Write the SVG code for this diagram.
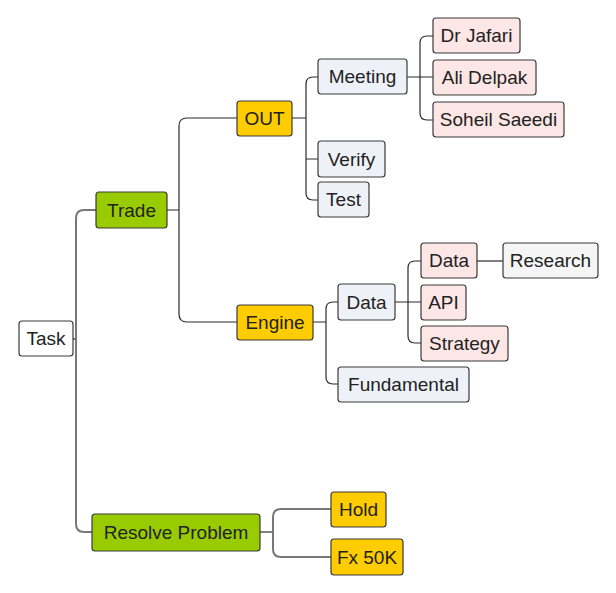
<svg xmlns="http://www.w3.org/2000/svg" width="616" height="593" viewBox="0 0 616 593">
<style>
.n rect{stroke:#3a3a3a;stroke-width:1.2}
.n text{font-family:"Liberation Sans",Arial,sans-serif;font-size:19px;fill:#222;text-anchor:middle}
.root rect{fill:#ffffff}
.g rect{fill:#99cc00}
.y rect{fill:#ffcc00}
.b rect{fill:#eef2f8}
.p rect{fill:#fde6e6}
.w rect{fill:#f5f5f5}
.c1{fill:none;stroke:#777;stroke-width:2}
.c2{fill:none;stroke:#2a2a2a;stroke-width:1.2}
</style>
<rect width="616" height="593" fill="#fff"/>
<g id="connectors">
<path class="c1" d="M73,339 H76 M96,210 H84 Q76,210 76,218 V524 Q76,532 84,532 H92"/>
<path class="c2" d="M167,210 H179 M237,118 H187 Q179,118 179,126 V314 Q179,322 187,322 H237"/>
<path class="c2" d="M292,118 H306 M318,77 H313 Q306,77 306,84 V193 Q306,200 313,200 H318 M306,159 H318"/>
<path class="c2" d="M407,77 H433 M433,36 H427 Q420,36 420,43 V113 Q420,120 427,120 H433"/>
<path class="c2" d="M313,322 H326 M338,302 H333 Q326,302 326,309 V377 Q326,384 333,384 H338"/>
<path class="c2" d="M395,302 H421 M421,261 H415 Q408,261 408,268 V336 Q408,343 415,343 H421"/>
<path class="c2" d="M477,261 H503"/>
<path class="c2" d="M260,532 H273"/>
<path class="c1" d="M331,509 H281 Q273,509 273,517 V549 Q273,557 281,557 H331"/>
</g>
<g id="task" class="n root"><rect x="19" y="321" width="54" height="35" rx="3"/><text x="46" y="345">Task</text></g>
<g id="trade" class="n g"><rect x="96" y="192" width="71" height="36" rx="3"/><text x="131.5" y="216.5">Trade</text></g>
<g id="out" class="n y"><rect x="237" y="101" width="55" height="35" rx="3"/><text x="264.5" y="125">OUT</text></g>
<g id="meeting" class="n b"><rect x="318" y="59" width="89" height="35" rx="3"/><text x="362.5" y="83">Meeting</text></g>
<g id="verify" class="n b"><rect x="318" y="141" width="67" height="36" rx="3"/><text x="351.5" y="165.5">Verify</text></g>
<g id="test" class="n b"><rect x="318" y="182" width="51" height="35" rx="3"/><text x="343.5" y="206">Test</text></g>
<g id="jafari" class="n p"><rect x="433" y="18" width="87" height="35" rx="3"/><text x="476.5" y="42">Dr Jafari</text></g>
<g id="delpak" class="n p"><rect x="433" y="60" width="103" height="35" rx="3"/><text x="484.5" y="84">Ali Delpak</text></g>
<g id="saeedi" class="n p"><rect x="433" y="102" width="131" height="35" rx="3"/><text x="498.5" y="126">Soheil Saeedi</text></g>
<g id="engine" class="n y"><rect x="237" y="305" width="76" height="35" rx="3"/><text x="275" y="329">Engine</text></g>
<g id="data1" class="n b"><rect x="338" y="284" width="57" height="36" rx="3"/><text x="366.5" y="308.5">Data</text></g>
<g id="fundamental" class="n b"><rect x="338" y="367" width="131" height="35" rx="3"/><text x="403.5" y="391">Fundamental</text></g>
<g id="data2" class="n p"><rect x="421" y="243" width="56" height="35" rx="3"/><text x="449" y="267">Data</text></g>
<g id="api" class="n p"><rect x="421" y="285" width="45" height="35" rx="3"/><text x="443.5" y="309">API</text></g>
<g id="strategy" class="n p"><rect x="421" y="326" width="87" height="35" rx="3"/><text x="464.5" y="350">Strategy</text></g>
<g id="research" class="n w"><rect x="503" y="243" width="95" height="35" rx="3"/><text x="550.5" y="267">Research</text></g>
<g id="resolve" class="n g"><rect x="92" y="514" width="168" height="37" rx="3"/><text x="176" y="539">Resolve Problem</text></g>
<g id="hold" class="n y"><rect x="331" y="492" width="55" height="35" rx="3"/><text x="358.5" y="516">Hold</text></g>
<g id="fx" class="n y"><rect x="331" y="539" width="72" height="36" rx="3"/><text x="367" y="563.5">Fx 50K</text></g>
</svg>
